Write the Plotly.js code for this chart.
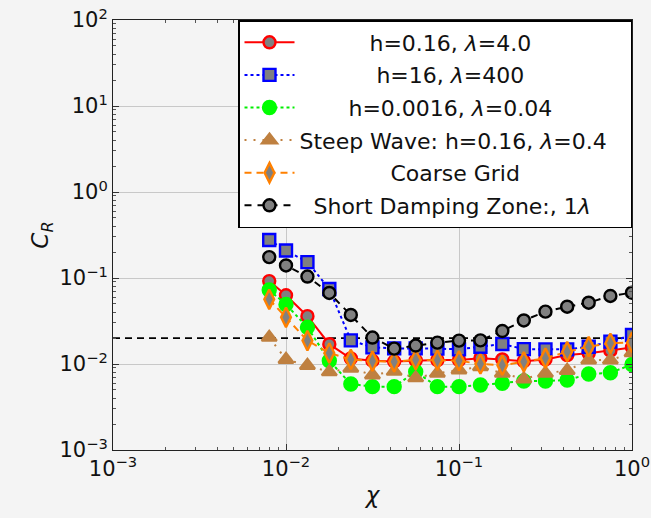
<!DOCTYPE html>
<html>
<head>
<meta charset="utf-8">
<script src="https://cdn.plot.ly/plotly-3.0.1.min.js"></script>
<style>html,body{margin:0;padding:0;background:#f4f4f4;}</style>
</head>
<body>
<div id="chart" style="width:651px;height:518px;"></div>
<script>
// ---- data ----
const chi = [0.008, 0.01, 0.0133, 0.0178, 0.0237, 0.0316, 0.0422, 0.0562, 0.075, 0.1, 0.133, 0.178, 0.237, 0.316, 0.422, 0.562, 0.75, 1.0];
const cr_h016 = [0.092, 0.063, 0.036, 0.017, 0.0116, 0.0109, 0.0107, 0.011, 0.0111, 0.0111, 0.0117, 0.0113, 0.0108, 0.0113, 0.0127, 0.0133, 0.0143, 0.0156];
const cr_h16 = [0.277, 0.209, 0.153, 0.0745, 0.0188, 0.0156, 0.0152, 0.0152, 0.0151, 0.0148, 0.0159, 0.0171, 0.0149, 0.0148, 0.0148, 0.0159, 0.0182, 0.0217];
const cr_h00016 = [0.0725, 0.0492, 0.0267, 0.0109, 0.00585, 0.00545, 0.00545, 0.00813, 0.00545, 0.00545, 0.0057, 0.00597, 0.00634, 0.00634, 0.00651, 0.00765, 0.00792, 0.00987];
const cr_steep = [0.0204, 0.0113, 0.0096, 0.0081, 0.0089, 0.00745, 0.0082, 0.0069, 0.0078, 0.0085, 0.0093, 0.0078, 0.0067, 0.0078, 0.0084, 0.0111, 0.0111, 0.0135];
const cr_coarse = [0.0565, 0.0349, 0.0187, 0.0134, 0.0113, 0.0108, 0.0106, 0.0112, 0.0111, 0.0109, 0.0100, 0.0097, 0.0106, 0.0117, 0.0139, 0.0159, 0.0174, 0.0178];
const cr_short = [0.175, 0.140, 0.104, 0.067, 0.0372, 0.0203, 0.0151, 0.0164, 0.0177, 0.0187, 0.0188, 0.0242, 0.0321, 0.0406, 0.0464, 0.0516, 0.0618, 0.0675];
const threshold = 0.02;
const seriesNames = [
  "h=0.16, <i>λ</i>=4.0",
  "h=16, <i>λ</i>=400",
  "h=0.0016, <i>λ</i>=0.04",
  "Steep Wave: h=0.16, <i>λ</i>=0.4",
  "Coarse Grid",
  "Short Damping Zone:, 1<i>λ</i>"
];
const xTickVals = [0.001, 0.01, 0.1, 1];
const xTickText = ["10<sup>−3</sup>", "10<sup>−2</sup>", "10<sup>−1</sup>", "10<sup>0</sup>"];
const yTickVals = [0.001, 0.01, 0.1, 1, 10, 100];
const yTickText = ["10<sup>−3</sup>", "10<sup>−2</sup>", "10<sup>−1</sup>", "10<sup>0</sup>", "10<sup>1</sup>", "10<sup>2</sup>"];
const xTitle = "<i>χ</i>";
const yTitle = "<i>C<sub>R</sub></i>";

// minor tick positions (2..9 within each decade)
function minorTicks(decades) {
  const out = [];
  decades.forEach(d => { for (let k = 2; k <= 9; k++) out.push(k * d); });
  return out;
}
const xMinor = minorTicks(xTickVals.slice(0, -1));
const yMinor = minorTicks(yTickVals.slice(0, -1));

// ---- helpers: center legend labels like the reference ----
const FONT = "DejaVu Sans";
const LEG_SIZE = 22;
function textWidth(s, size) {
  const c = document.createElement("canvas").getContext("2d");
  c.font = size + "px '" + FONT + "'";
  return c.measureText(s.replace(/<[^>]+>/g, "")).width;
}
const widths = seriesNames.map(s => textWidth(s, LEG_SIZE));
const maxW = Math.max(...widths);
const spaceW = textWidth("\u00A0", LEG_SIZE);
const padded = seriesNames.map((s, i) => {
  const pad = Math.round((maxW - widths[i]) / 2 / spaceW);
  return "\u00A0".repeat(pad) + s + "\u00A0".repeat(pad + 2);
});

const gray = "#808080";
const styles = [
  {y: cr_h016, color: "#ff0000", dash: "solid", symbol: "circle", fill: gray, mline: "#ff0000", size: 12},
  {y: cr_h16, color: "#0000ff", dash: "dot", symbol: "square", fill: gray, mline: "#0000ff", size: 12},
  {y: cr_h00016, color: "#00ee00", dash: "dot", symbol: "circle", fill: "#00ff00", mline: "#00ff00", size: 13},
  {y: cr_steep, color: "#bf8040", dash: "2px,7px", symbol: "triangle-up", fill: "#bf8040", mline: "#bf8040", size: 13},
  {y: cr_coarse, color: "#ff8000", dash: "7px,5px", symbol: "diamond-tall", fill: gray, mline: "#ff8000", size: 14},
  {y: cr_short, color: "#000000", dash: "7px,6px", symbol: "circle", fill: gray, mline: "#000000", size: 12}
];

const traces = [{
  x: [0.001, 1], y: [threshold, threshold], mode: "lines",
  line: {color: "#000", width: 1.6, dash: "7px,5px"},
  showlegend: false, hoverinfo: "skip"
}];
styles.forEach((s, i) => {
  traces.push({
    x: chi, y: s.y, name: padded[i], mode: "lines+markers",
    legendgroup: "g" + i,
    line: {color: s.color, width: 2, dash: s.dash},
    marker: {symbol: s.symbol, size: s.size, color: s.fill, line: {color: s.mline, width: 2.4}}
  });
});

const axisCommon = {
  type: "log", showline: true, linecolor: "#222", linewidth: 1, mirror: "allticks",
  ticks: "inside", ticklen: 6, tickcolor: "#333", tickwidth: 1,
  showgrid: true, gridcolor: "#c8c8c8", gridwidth: 1, zeroline: false,
  tickfont: {family: FONT, size: 21, color: "#111"}
};

const layout = {
  width: 651, height: 518,
  paper_bgcolor: "#f4f4f4", plot_bgcolor: "#f4f4f4",
  margin: {l: 113, r: 19, t: 20, b: 68},
  font: {family: FONT, color: "#111"},
  xaxis: Object.assign({}, axisCommon, {range: [-3, 0], tickmode: "array", tickvals: xTickVals, ticktext: xTickText,
    minor: {tickmode: "array", tickvals: xMinor, ticks: "inside", ticklen: 3, tickcolor: "#555", showgrid: false},
    title: {text: xTitle, font: {family: FONT, size: 23}, standoff: 6}}),
  yaxis: Object.assign({}, axisCommon, {range: [-3, 2], tickmode: "array", tickvals: yTickVals, ticktext: yTickText,
    minor: {tickmode: "array", tickvals: yMinor, ticks: "inside", ticklen: 3, tickcolor: "#555", showgrid: false},
    title: {text: yTitle, font: {family: FONT, size: 23}, standoff: 4}}),
  legend: {
    x: 1, xanchor: "right", y: 1, yanchor: "top",
    bgcolor: "#ffffff", bordercolor: "#000", borderwidth: 1.5,
    font: {family: FONT, size: LEG_SIZE, color: "#111"},
    itemwidth: 50, tracegroupgap: 1
  },
  showlegend: true
};

Plotly.newPlot("chart", traces, layout, {displayModeBar: false, staticPlot: true});
</script>
</body>
</html>
